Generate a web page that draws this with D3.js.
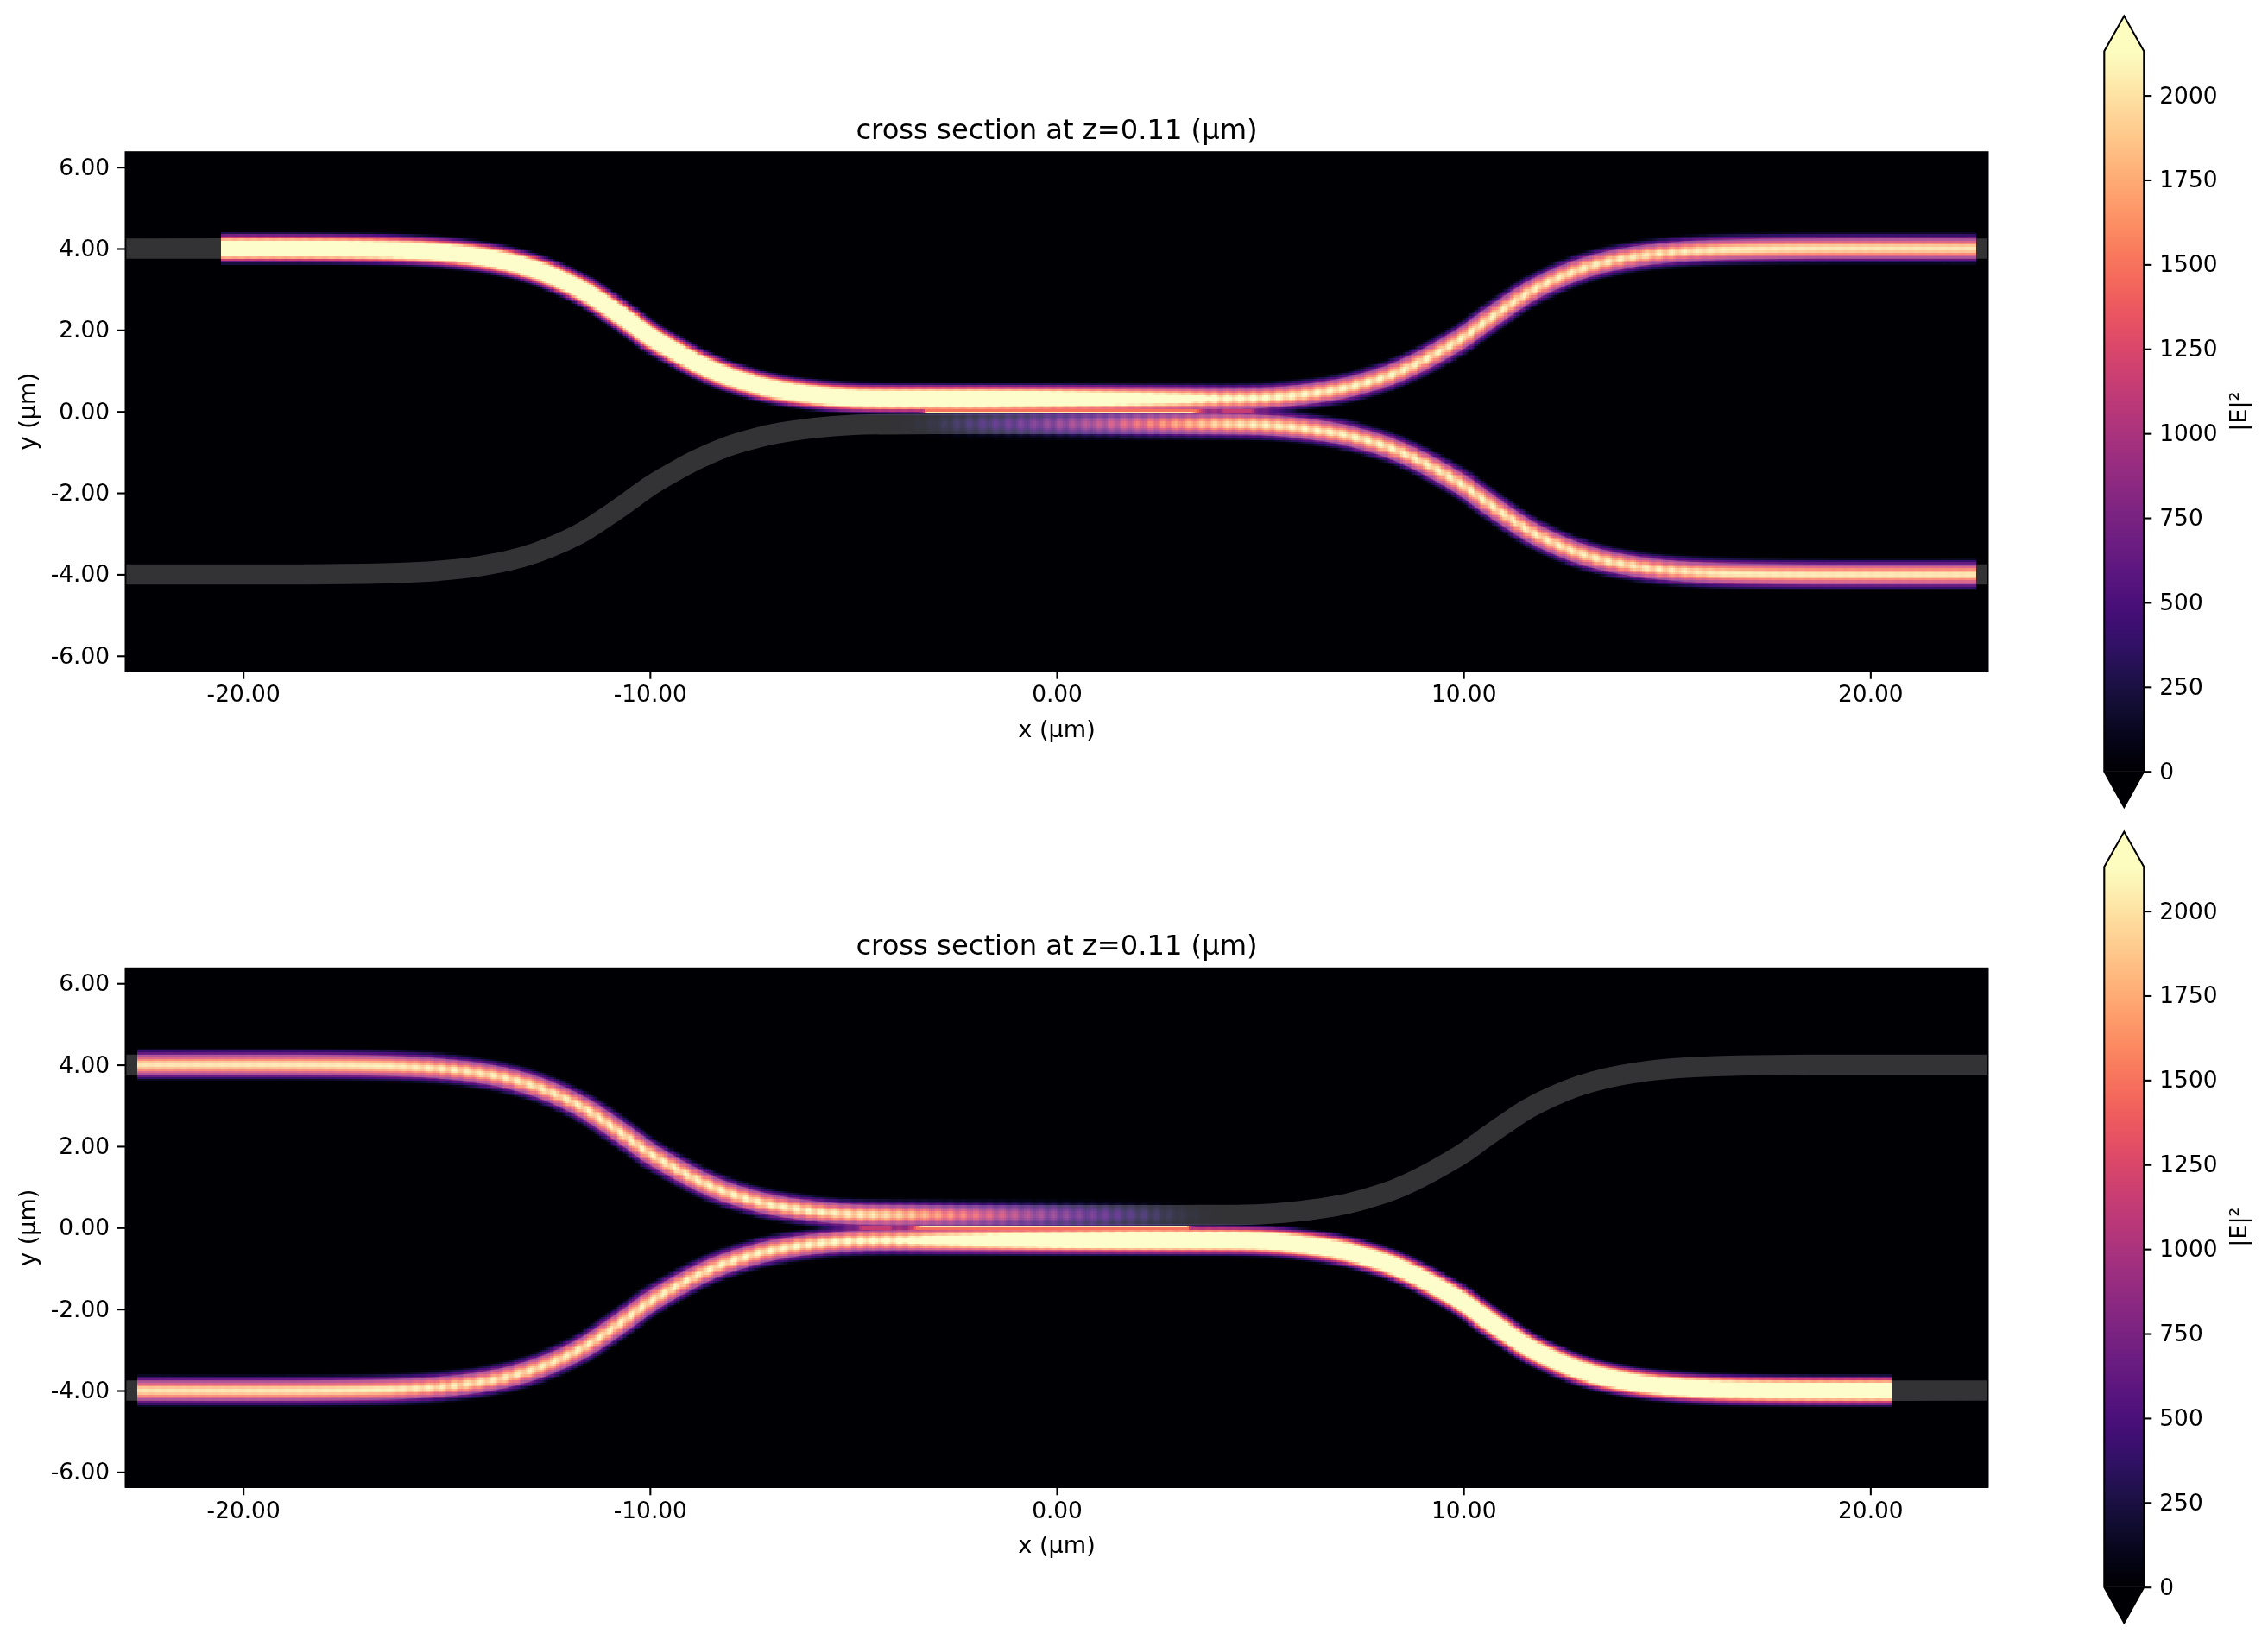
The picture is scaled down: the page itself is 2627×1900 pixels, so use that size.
<!DOCTYPE html>
<html><head><meta charset="utf-8">
<style>
html,body{margin:0;padding:0;background:#fff;width:2627px;height:1900px;overflow:hidden}
canvas,svg{position:absolute;left:0;top:0}
text{font-family:"DejaVu Sans";fill:#000}
</style>
<script src="https://cdn.jsdelivr.net/npm/d3@7"></script>
</head><body>
<script>
// ---- values ----
const xTicks=[-20,-10,0,10,20];
const yTicks=[-6,-4,-2,0,2,4,6];
const cbTicks=[0,250,500,750,1000,1250,1500,1750,2000];
const xLim=[-22.9,22.9], yLim=[-6.38,6.38];
const vMax=2131;
const titleText="cross section at z=0.11 (µm)";
const wgWidth=0.5, wgEnd=22.87;
// waveguide centre line |x| -> |y| (µm)
const armAbsX=[0,3,5,6,7,7.6,8.2,8.8,9.3,10,10.5,11,11.6,12.2,12.8,13.5,14.4,15.3,16.2,17,18.5,22.87];
const armAbsY=[0.31,0.31,0.33,0.41,0.56,0.71,0.90,1.16,1.42,1.83,2.19,2.54,2.93,3.23,3.47,3.67,3.83,3.92,3.965,3.985,4,4];
// field window in the first panel (second panel is the same, turned by 180 degrees)
const fieldX0=-20.57, fieldX1=22.6;
// peak |E|^2 along the driven arm
const drivenX=[-23,-2,0,1.2,3,4,6,10,16,23];
const drivenA=[3800,3800,3400,3100,2600,2300,2180,2130,2090,2050];
// peak |E|^2 along the coupled arm
const coupledX=[-4.2,-3.6,-3.1,-2.1,-0.7,0.7,2.1,3.5,4.5,6,10,16,23];
const coupledA=[0,40,130,380,680,1040,1500,1900,2090,2160,2130,2090,2050];
// cross-section profile of the mode: distance from centre (µm) -> fraction of the peak
const profD=[0,0.057,0.106,0.17,0.254,0.333,0.382,0.424];
const profF=[1,0.94,0.79,0.61,0.37,0.17,0.05,0];
// standing-wave ripple depth along x, period and position of one maximum
const rippleX=[-23,3,4,15,16.5,23];
const rippleM=[0.04,0.04,0.12,0.12,0.015,0.015];
const coupledRippleX=[-4,0,3,4,15,16.5,23];
const coupledRippleM=[0.45,0.28,0.15,0.12,0.12,0.015,0.015];
const ripplePeriod=0.317, rippleRef=4.82;
// bright sliver in the gap between the arms
const gapX=[-3.6,-3.3,-3.2,3.3,3.5,3.9,4.1,4.8,5.0];
const gapV=[300,900,2060,2060,1300,500,1150,1150,300];
const gapEdge=[1500,1500];
const cellSize=0.05;
// ---- layout ----
const plot={l:145,r:2303,t:175.7,b:777.7};
const bar={l:2437.3,r:2483.3,tip:18.6,top:59.3,zero:893.7,low:935};
const panelOffsets=[0,945.6], barOffsets=[0,945];
const FS=26.4, LS=27.1, TS=32.2;

const x=d3.scaleLinear().domain(xLim).range([plot.l,plot.r]);
const color=d3.scaleSequential(d3.interpolateMagma).domain([0,vMax]).clamp(true);
const lut=d3.range(512).map(i=>color(i/511*vMax));
const absXfull=[...armAbsX.slice(1).reverse().map(d=>-d),...armAbsX];
const absYfull=[...armAbsY.slice(1).reverse(),...armAbsY];
const wgCurve=d3.curveCatmullRom.alpha(0.5);

const aDriven=d3.scaleLinear().domain(drivenX).range(drivenA).clamp(true);
const aCoupled=d3.scaleLinear().domain(coupledX).range(coupledA).clamp(true);
const prof=d3.scaleLinear().domain(profD).range(profF).clamp(true);
const ripple=d3.scaleLinear().domain(rippleX).range(rippleM).clamp(true);
const rippleC=d3.scaleLinear().domain(coupledRippleX).range(coupledRippleM).clamp(true);
const gap=d3.scaleLinear().domain(gapX).range(gapV).clamp(true);

const svg=d3.select("body").append("svg").attr("width",2627).attr("height",1900);

// sample centre line from a hidden path built by d3.line
const yBase=d3.scaleLinear().domain(yLim).range([plot.b,plot.t]);
const hidden=svg.append("path").attr("fill","none")
  .attr("d",d3.line().curve(wgCurve).x((d,i)=>x(absXfull[i])).y((d,i)=>yBase(absYfull[i]))(absXfull));
const N=Math.round(2*wgEnd/cellSize)+1;
const colY=new Float64Array(N), colS=new Float64Array(N), colC=new Float64Array(N);
{
  const L=hidden.node().getTotalLength();
  let last=-1, s=0, px=null;
  for(let l=0;l<=L;l+=0.25){
    const p=hidden.node().getPointAtLength(l);
    const xv=x.invert(p.x), yv=yBase.invert(p.y);
    if(px) s+=Math.hypot(xv-px[0],yv-px[1]);
    px=[xv,yv];
    const k=Math.min(N-1,Math.max(0,Math.round((xv+wgEnd)/cellSize)));
    if(k>last){for(let j=last+1;j<=k;j++){colY[j]=yv;colS[j]=s;}last=k;}
  }
  for(let j=last+1;j<N;j++){colY[j]=colY[last];colS[j]=colS[last];}
  for(let j=0;j<N;j++){
    const a=Math.max(0,j-2),b=Math.min(N-1,j+2);
    const sl=(colY[b]-colY[a])/((b-a)*cellSize);
    colC[j]=1/Math.sqrt(1+sl*sl);
  }
}
const s0=colS[Math.round((rippleRef+wgEnd)/cellSize)];

function field(cx,cy){
  if(cx<fieldX0||cx>fieldX1) return 0;
  const k=Math.min(N-1,Math.max(0,Math.round((cx+wgEnd)/cellSize)));
  const yc=colY[k],c=colC[k];
  const du=Math.abs(cy-yc)*c, dl=Math.abs(cy+yc)*c;
  const wave=(1-Math.cos(2*Math.PI*(colS[k]-s0)/ripplePeriod))/2;
  let v=aDriven(cx)*prof(du)*(1-ripple(cx)*wave)+aCoupled(cx)*prof(dl)*(1-rippleC(cx)*wave);
  if(cx>gapX[0]&&cx<gapX[gapX.length-1]){
    if(cy>-cellSize&&cy<0) v=Math.max(v,gap(cx));
    else if(cy>=0&&cy<cellSize) v=Math.max(v,Math.min(gap(cx),gapEdge[0]));
  }
  return v;
}

function drawPanel(off,barOff,turn){
  const y=d3.scaleLinear().domain(yLim).range([plot.b+off,plot.t+off]);
  // heat cells
  const cv=d3.select("body").insert("canvas","svg")
    .attr("width",plot.r-plot.l).attr("height",Math.ceil(plot.b-plot.t)+1)
    .style("left",plot.l+"px").style("top",Math.round(plot.t+off)+"px").node();
  const ctx=cv.getContext("2d");
  ctx.fillStyle=color(0);ctx.fillRect(0,0,cv.width,cv.height);
  const ox=plot.l, oy=Math.round(plot.t+off);
  const nx=Math.floor(xLim[1]/cellSize), ny=Math.floor(yLim[1]/cellSize);
  for(let i=-nx;i<nx;i++){
    const cx=(i+0.5)*cellSize;
    const pxL=Math.round(x(i*cellSize)), pxR=Math.round(x((i+1)*cellSize));
    for(let j=-ny;j<ny;j++){
      const cy=(j+0.5)*cellSize;
      const v=turn?field(-cx,-cy):field(cx,cy);
      if(v<6) continue;
      const t=Math.round(y((j+1)*cellSize)), b=Math.round(y(j*cellSize));
      ctx.fillStyle=lut[Math.min(511,Math.round(v/vMax*511))];
      ctx.fillRect(pxL-ox,t-oy,pxR-pxL,b-t);
    }
  }
  const g=svg.append("g");
  // waveguide structures
  const wg=d3.line().curve(wgCurve).x((d,i)=>x(absXfull[i]));
  [1,-1].forEach(sg=>{
    g.append("path").attr("fill","none").attr("stroke","#fff").attr("stroke-opacity",0.2)
      .attr("stroke-width",wgWidth*(x(1)-x(0)))
      .attr("d",wg.y((d,i)=>y(sg*absYfull[i]))(absXfull));
  });
  // frame
  g.append("rect").attr("x",plot.l).attr("y",plot.t+off).attr("width",plot.r-plot.l).attr("height",plot.b-plot.t)
    .attr("fill","none").attr("stroke","#000").attr("stroke-width",1);
  // axes
  const ax=g.append("g").attr("transform",`translate(0,${plot.b+off})`)
    .call(d3.axisBottom(x).tickValues(xTicks).tickFormat(d=>d.toFixed(2)).tickSize(9).tickPadding(8));
  const ay=g.append("g").attr("transform",`translate(${plot.l},0)`)
    .call(d3.axisLeft(y).tickValues(yTicks).tickFormat(d=>d.toFixed(2)).tickSize(9).tickPadding(9));
  [ax,ay].forEach(a=>{a.select(".domain").remove();
    a.selectAll("line").attr("stroke","#000").attr("stroke-width",2.1);
    a.selectAll("text").attr("font-size",FS).attr("font-family","DejaVu Sans").attr("fill","#000");});
  g.append("text").attr("x",x(0)).attr("y",plot.t+off-15).attr("text-anchor","middle").attr("font-size",TS).text(titleText);
  g.append("text").attr("x",x(0)).attr("y",plot.b+off+76).attr("text-anchor","middle").attr("font-size",LS).text("x (µm)");
  g.append("text").attr("transform",`translate(41,${(plot.t+plot.b)/2+off}) rotate(-90)`).attr("text-anchor","middle").attr("font-size",LS).text("y (µm)");
  // colorbar
  const cy=d3.scaleLinear().domain([0,vMax]).range([bar.zero+barOff,bar.top+barOff]);
  const id="grad"+turn;
  const gr=svg.append("defs").append("linearGradient").attr("id",id).attr("x1",0).attr("x2",0).attr("y1",1).attr("y2",0);
  d3.range(65).forEach(i=>gr.append("stop").attr("offset",i/64).attr("stop-color",color(i/64*vMax)));
  g.append("rect").attr("x",bar.l).attr("width",bar.r-bar.l).attr("y",cy(vMax)).attr("height",cy(0)-cy(vMax)).attr("fill",`url(#${id})`);
  const mid=(bar.l+bar.r)/2;
  g.append("path").attr("fill",color(vMax)).attr("d",`M${bar.l},${cy(vMax)+0.5}L${mid},${bar.tip+barOff}L${bar.r},${cy(vMax)+0.5}Z`);
  g.append("path").attr("fill",color(0)).attr("d",`M${bar.l},${cy(0)-0.5}L${mid},${bar.low+barOff}L${bar.r},${cy(0)-0.5}Z`);
  g.append("path").attr("fill","none").attr("stroke","#000").attr("stroke-width",2.1)
    .attr("d",`M${bar.l},${cy(vMax)}L${mid},${bar.tip+barOff}L${bar.r},${cy(vMax)}L${bar.r},${cy(0)}L${mid},${bar.low+barOff}L${bar.l},${cy(0)}Z`);
  const ac=g.append("g").attr("transform",`translate(${bar.r},0)`)
    .call(d3.axisRight(cy).tickValues(cbTicks).tickFormat(d=>String(d)).tickSize(9).tickPadding(9));
  ac.select(".domain").remove();
  ac.selectAll("line").attr("stroke","#000").attr("stroke-width",2.1);
  ac.selectAll("text").attr("font-size",FS).attr("font-family","DejaVu Sans").attr("fill","#000");
  g.append("text").attr("transform",`translate(2602,${(plot.t+plot.b)/2+barOff}) rotate(-90)`).attr("text-anchor","middle").attr("font-size",LS).text("|E|²");
}
drawPanel(panelOffsets[0],barOffsets[0],false);
drawPanel(panelOffsets[1],barOffsets[1],true);
hidden.remove();
</script>
</body></html>
